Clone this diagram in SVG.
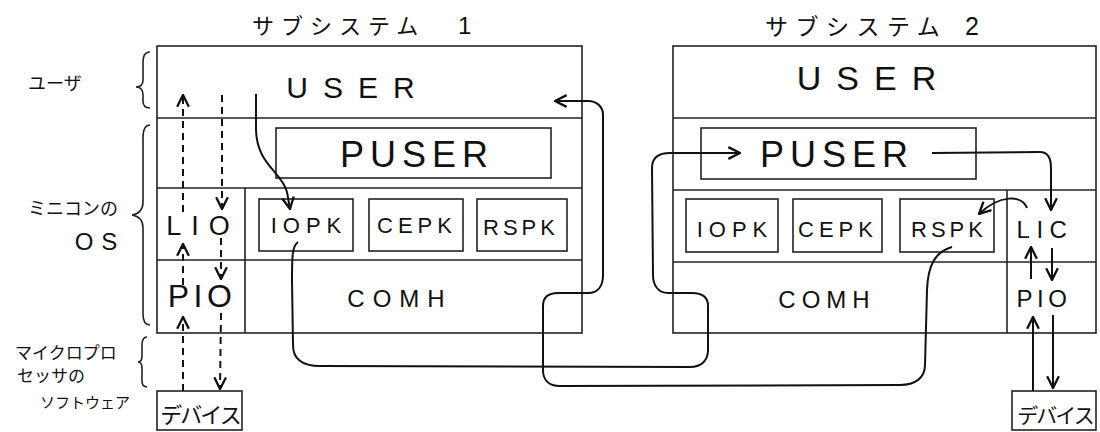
<svg xmlns="http://www.w3.org/2000/svg" width="1100" height="432" viewBox="0 0 1100 432">
<style>
.box{fill:none;stroke:#222;stroke-width:1.6}
.ln{stroke:#222;stroke-width:1.6;fill:none}
.lat{font-family:"Liberation Sans",Arial,sans-serif;fill:#111;text-anchor:middle}
.jp{font-family:"Noto Sans CJK JP",sans-serif;fill:#111}
.brace{fill:none;stroke:#222;stroke-width:1.6}
.conn{fill:none;stroke:#111;stroke-width:2;marker-end:url(#arr)}
.dash{stroke-dasharray:7 5}
</style>
<defs>
<marker id="arr" markerUnits="userSpaceOnUse" markerWidth="14" markerHeight="14" viewBox="0 0 12 12" refX="11" refY="6" orient="auto">
<path d="M1,1 L11,6 L1,11" fill="none" stroke="#111" stroke-width="2" stroke-dasharray="none"/>
</marker>
</defs>
<rect width="1100" height="432" fill="#fff"/>

<g id="labels">
<text class="jp" x="28" y="90" font-size="18">ユーザ</text>
<path class="brace" d="M150,52 C144,52 143,57 143,64 L143,80 C143,85 140,87 136,87 C140,87 143,89 143,95 L143,101 C143,106 145,108 150,108"/>
<text class="jp" x="28" y="215" font-size="18">ミニコンの</text>
<text class="lat" x="100" y="250" font-size="24" letter-spacing="8">OS</text>
<path class="brace" d="M150,125 C145,125 143,130 143,138 L143,202 C143,210 138,214 132,215 C138,216 143,220 143,228 L143,314 C143,321 145,325 150,325"/>
<text class="jp" x="15" y="359" font-size="17">マイクロプロ</text>
<text class="jp" x="17" y="382" font-size="17">セッサの</text>
<text class="jp" x="40" y="408" font-size="15">ソフトウェア</text>
<path class="brace" d="M147,337 C143,337 142,340 142,345 L142,356 C142,360 140,362 138,362 C140,362 142,364 142,368 L142,381 C142,385 143,387 147,387"/>
</g>

<g id="subsystem1">
<text class="jp" y="34" font-size="22"><tspan x="252" letter-spacing="7">サブシステム</tspan><tspan x="458" font-family="Liberation Sans,Arial,sans-serif" font-size="24">1</tspan></text>
<rect class="box" x="157" y="46" width="425" height="287"/>
<line class="ln" x1="157" y1="118" x2="582" y2="118"/>
<line class="ln" x1="157" y1="188" x2="582" y2="188"/>
<line class="ln" x1="157" y1="260" x2="582" y2="260"/>
<line class="ln" x1="245" y1="188" x2="245" y2="333"/>
</g>
<g id="s1-user"><text class="lat" x="358" y="98" font-size="30" letter-spacing="15">USER</text></g>
<g id="s1-puser">
<rect class="box" x="276" y="128" width="275" height="50"/>
<text class="lat" x="417" y="167" font-size="36" letter-spacing="6">PUSER</text>
</g>
<g id="s1-lio"><text class="lat" x="203" y="235" font-size="27" letter-spacing="10">LIO</text></g>
<g id="s1-pio"><text class="lat" x="202" y="307" font-size="32" letter-spacing="4.5">PIO</text></g>
<g id="s1-iopk">
<rect class="box" x="259" y="199" width="94" height="52"/>
<text class="lat" x="309" y="233" font-size="22" letter-spacing="6">IOPK</text>
</g>
<g id="s1-cepk">
<rect class="box" x="369" y="199" width="94" height="52"/>
<text class="lat" x="417" y="233" font-size="22" letter-spacing="5">CEPK</text>
</g>
<g id="s1-rspk">
<rect class="box" x="477" y="199" width="90" height="52"/>
<text class="lat" x="521" y="235" font-size="22" letter-spacing="4">RSPK</text>
</g>
<g id="s1-comh"><text class="lat" x="400" y="307" font-size="24" letter-spacing="8">COMH</text></g>
<g id="s1-device">
<rect class="box" x="157" y="391" width="85" height="39"/>
<text class="jp" x="200" y="423" font-size="22" letter-spacing="-2" text-anchor="middle">デバイス</text>
</g>

<g id="subsystem2">
<text class="jp" y="35" font-size="23"><tspan x="765" letter-spacing="7.5">サブシステム</tspan><tspan x="965" font-family="Liberation Sans,Arial,sans-serif" font-size="25">2</tspan></text>
<rect class="box" x="673" y="46" width="423" height="287"/>
<line class="ln" x1="673" y1="118" x2="1096" y2="118"/>
<line class="ln" x1="673" y1="190" x2="1096" y2="190"/>
<line class="ln" x1="673" y1="262" x2="1096" y2="262"/>
<line class="ln" x1="1007" y1="190" x2="1007" y2="333"/>
</g>
<g id="s2-user"><text class="lat" x="874" y="90" font-size="34" letter-spacing="15">USER</text></g>
<g id="s2-puser">
<rect class="box" x="701" y="128" width="275" height="51"/>
<text class="lat" x="837" y="167" font-size="36" letter-spacing="6">PUSER</text>
</g>
<g id="s2-iopk">
<rect class="box" x="686" y="199" width="92" height="53"/>
<text class="lat" x="735" y="237" font-size="22" letter-spacing="6">IOPK</text>
</g>
<g id="s2-cepk">
<rect class="box" x="793" y="199" width="89" height="53"/>
<text class="lat" x="838" y="237" font-size="22" letter-spacing="5">CEPK</text>
</g>
<g id="s2-rspk">
<rect class="box" x="900" y="199" width="94" height="53"/>
<text class="lat" x="949" y="237" font-size="22" letter-spacing="4">RSPK</text>
</g>
<g id="s2-lic"><text class="lat" x="1045" y="238" font-size="24" letter-spacing="6.5">LIC</text></g>
<g id="s2-pio"><text class="lat" x="1044" y="307" font-size="24" letter-spacing="4.5">PIO</text></g>
<g id="s2-comh"><text class="lat" x="827" y="308" font-size="24" letter-spacing="6">COMH</text></g>
<g id="s2-device">
<rect class="box" x="1012" y="391" width="84" height="39"/>
<text class="jp" x="1055" y="423" font-size="21" letter-spacing="-2" text-anchor="middle">デバイス</text>
</g>

<g id="connectors">
<path class="conn dash" d="M183,391 L183,317"/>
<path class="conn dash" d="M183,285 L183,244"/>
<path class="conn dash" d="M183,212 L183,95"/>
<path class="conn dash" d="M222,95 L222,209"/>
<path class="conn dash" d="M221,238 L221,279"/>
<path class="conn dash" d="M221,313 L220,389"/>
<path class="conn" d="M256,94 L256,130 C257,165 282,172 287,192 L290,209"/>
<path class="conn" d="M298,242 C292,246 292,258 292,280 L293,345 C293,360 303,366 320,366 L690,367 C702,367 708,360 708,350 L708,306 C708,297 702,293 692,293 L668,293 C658,293 653,285 653,275 L652,168 C652,158 658,153 670,153 L740,153"/>
<path class="conn" d="M952,247 C935,252 928,265 927,290 L925,365 C925,378 915,385 900,385 L560,386 C549,386 543,380 543,370 L543,306 C543,298 548,293 558,293 L588,293 C598,293 603,286 603,275 L603,115 C603,106 596,101 588,101 L555,101"/>
<path class="conn" d="M932,153 L1040,152 C1048,152 1051,158 1051,168 L1051,210"/>
<path class="conn" d="M1027,208 C1022,195 1000,194 979,214"/>
<path class="conn" d="M1031,279 L1031,247"/>
<path class="conn" d="M1052,248 L1052,280"/>
<path class="conn" d="M1033,391 L1033,317"/>
<path class="conn" d="M1053,315 L1053,388"/>
</g>
</svg>
